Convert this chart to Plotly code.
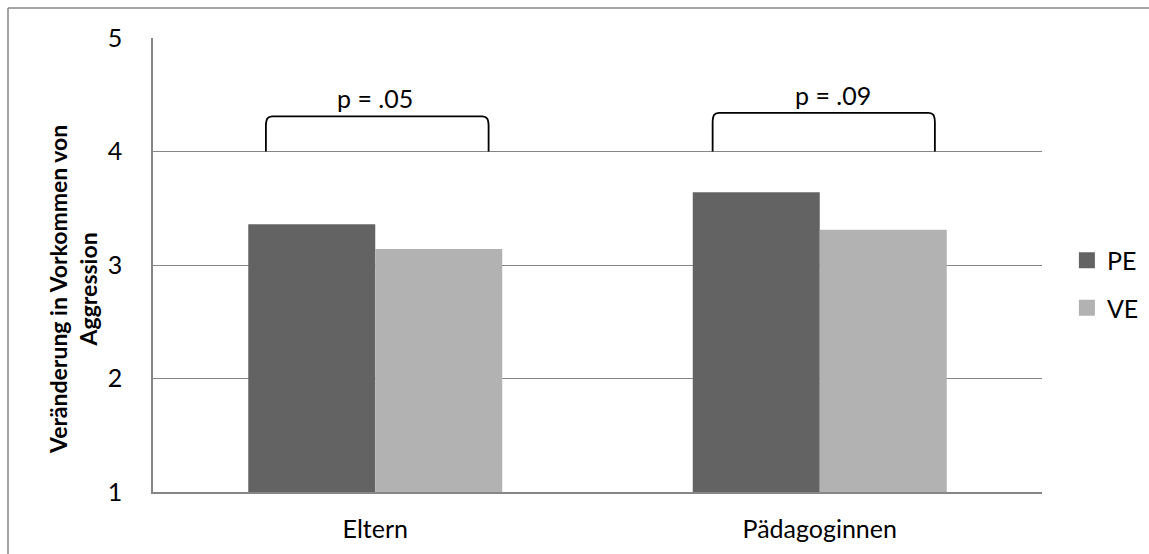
import plotly.graph_objects as go

# Gruppen und Mittelwerte
gruppen = ["Eltern", "Pädagoginnen"]
pe_werte = [3.36, 3.64]
ve_werte = [3.14, 3.31]

# Signifikanzklammern: linke/rechte Kante, Höhe, Beschriftung, Textposition
klammer_links = [-0.246, 0.759]
klammer_rechts = [0.255, 1.259]
klammer_hoehe = [4.31, 4.34]
klammer_text = ["p = .05", "p = .09"]
text_x = [0.0, 1.03]
text_y = [4.47, 4.50]

y_ticks = [1, 2, 3, 4, 5]

FONT = "Lato"
GRAU = "#868686"
FARBE_PE = "#636363"
FARBE_VE = "#b2b2b2"

x_pos = list(range(len(gruppen)))

fig = go.Figure()
fig.add_bar(x=x_pos, y=pe_werte, name="PE", marker_color=FARBE_PE,
            marker_line_width=0, showlegend=False)
fig.add_bar(x=x_pos, y=ve_werte, name="VE", marker_color=FARBE_VE,
            marker_line_width=0, showlegend=False)

# Legendeneinträge mit quadratischen Symbolen
for name, farbe, gruppe in [("PE", FARBE_PE, "pe"), ("VE", FARBE_VE, "ve")]:
    fig.add_scatter(x=[None], y=[None], mode="markers", name=name,
                    legendgroup=gruppe,
                    marker=dict(symbol="square", size=16, color=farbe))

# Klammern mit leicht gerundeten Ecken
for x0, x1, h in zip(klammer_links, klammer_rechts, klammer_hoehe):
    dy = 0.09
    dx = 0.014
    path = (f"M {x0},4 L {x0},{h - dy} "
            f"C {x0},{h - 0.02} {x0 + 0.004},{h} {x0 + dx},{h} "
            f"L {x1 - dx},{h} "
            f"C {x1 - 0.004},{h} {x1},{h - 0.02} {x1},{h - dy} "
            f"L {x1},4")
    fig.add_shape(type="path", path=path, xref="x", yref="y",
                  line=dict(color="black", width=1.8))

for tx, ty, t in zip(text_x, text_y, klammer_text):
    fig.add_annotation(x=tx, y=ty, text=t, showarrow=False, xref="x", yref="y",
                       font=dict(family=FONT, size=25, color="black"))

# Achsentitel
fig.add_annotation(x=(73 - 153) / 889, y=(492 - 290) / 454, xref="paper", yref="paper",
                   text="<b>Veränderung in Vorkommen von<br>Aggression</b>",
                   textangle=-90, showarrow=False, xanchor="center", yanchor="middle",
                   font=dict(family=FONT, size=23, color="black"))

# Rahmen des Diagrammbereichs (oben und links sichtbar)
fig.add_shape(type="line", xref="paper", yref="paper",
              x0=(8 - 153) / 889, x1=(1149 - 153) / 889,
              y0=(492 - 8) / 454, y1=(492 - 8) / 454,
              line=dict(color=GRAU, width=1.5))
fig.add_shape(type="line", xref="paper", yref="paper",
              x0=(8 - 153) / 889, x1=(8 - 153) / 889,
              y0=(492 - 8) / 454, y1=(492 - 560) / 454,
              line=dict(color=GRAU, width=1.5))

fig.update_layout(
    width=1149, height=554,
    margin=dict(l=153, r=107, t=38, b=62, autoexpand=False),
    paper_bgcolor="white", plot_bgcolor="white",
    barmode="group", bargap=0.4286, bargroupgap=0,
    font=dict(family=FONT, size=25, color="black"),
    showlegend=True,
    legend=dict(x=1.028, xanchor="left", y=0.458, yanchor="middle",
                font=dict(family=FONT, size=25), tracegroupgap=12,
                itemwidth=30, bgcolor="rgba(0,0,0,0)"),
    xaxis=dict(range=[-0.5, 1.5], tickvals=x_pos, ticktext=gruppen,
               showgrid=False, showline=True, linecolor=GRAU, linewidth=1.5,
               ticks="", zeroline=False, ticklabelstandoff=14, automargin=False,
               tickfont=dict(family=FONT, size=25)),
    yaxis=dict(range=[1, 5], tickvals=y_ticks, showgrid=True,
               gridcolor=GRAU, gridwidth=1.3, showline=True, linecolor=GRAU,
               linewidth=1.5, ticks="", zeroline=False, ticklabelstandoff=24,
               automargin=False, tickfont=dict(family=FONT, size=25)),
)

fig.write_html("out.html")
